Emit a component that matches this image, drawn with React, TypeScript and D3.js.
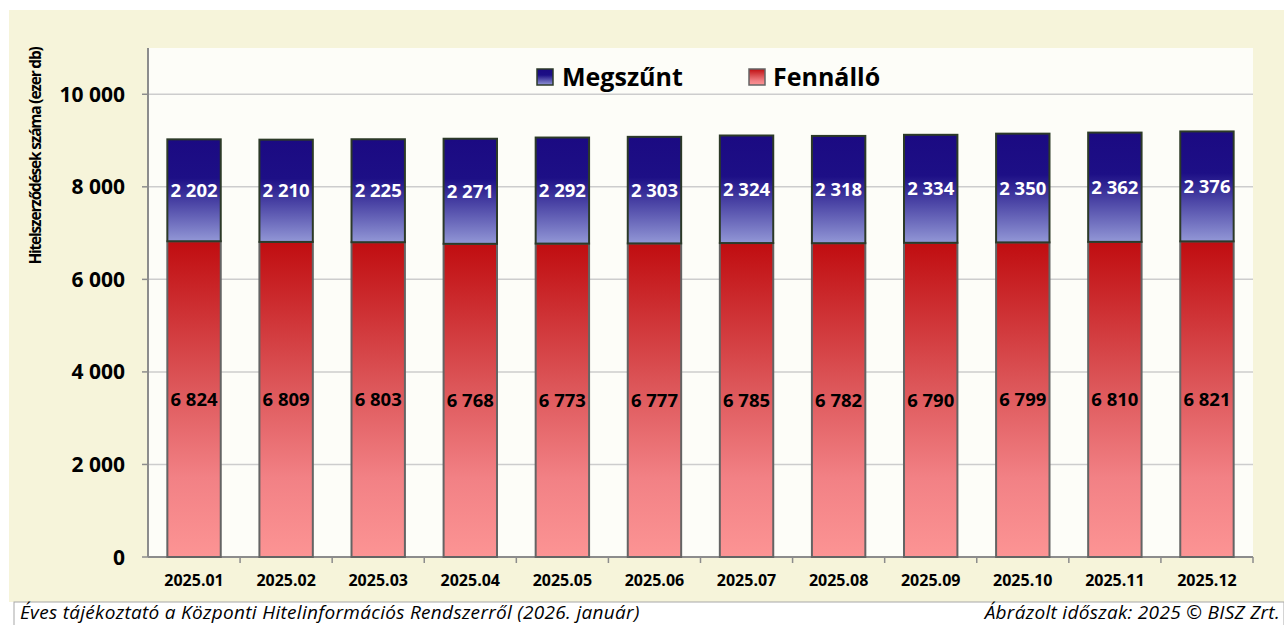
import React from "react";
import * as d3 from "d3";

const months = [
  "2025.01", "2025.02", "2025.03", "2025.04", "2025.05", "2025.06",
  "2025.07", "2025.08", "2025.09", "2025.10", "2025.11", "2025.12",
];
const fennallo = [6824, 6809, 6803, 6768, 6773, 6777, 6785, 6782, 6790, 6799, 6810, 6821];
const megszunt = [2202, 2210, 2225, 2271, 2292, 2303, 2324, 2318, 2334, 2350, 2362, 2376];
const yTicks = [0, 2000, 4000, 6000, 8000, 10000];

const W = 1284;
const H = 625;
const plot = { left: 148, right: 1253, top: 48, bottom: 557 };
const FONT = "'Open Sans', 'Noto Sans', sans-serif";

// ezres tagolás szóközzel
const fmt = (v: number) => d3.format(",")(v).replace(/,/g, " ");

export default function App() {
  const x = d3
    .scaleBand()
    .domain(months)
    .range([plot.left, plot.right])
    .paddingInner(0.42)
    .paddingOuter(0.21);

  const y = d3.scaleLinear().domain([0, 11000]).range([plot.bottom, plot.top]);

  const step = (plot.right - plot.left) / months.length;
  const bandEdges = months.map((_, i) => plot.left + step * (i + 1));

  return (
    <svg width={W} height={H} style={{ position: "absolute", left: 0, top: 0 }}>
      <defs>
        <linearGradient id="gBlue" x1="0" y1="0" x2="0" y2="1">
          <stop offset="0" stopColor="#1b0a82" />
          <stop offset="0.38" stopColor="#1d0f86" />
          <stop offset="1" stopColor="#9297d6" />
        </linearGradient>
        <linearGradient id="gRed" x1="0" y1="0" x2="0" y2="1">
          <stop offset="0" stopColor="#c00d10" />
          <stop offset="0.45" stopColor="#dc5558" />
          <stop offset="0.75" stopColor="#f28185" />
          <stop offset="1" stopColor="#fc9494" />
        </linearGradient>
      </defs>

      <rect x={0} y={0} width={W} height={H} fill="#ffffff" />
      <rect x={9} y={10} width={W - 9} height={592} fill="#f6f4da" />
      <rect
        x={plot.left}
        y={plot.top}
        width={plot.right - plot.left}
        height={plot.bottom - plot.top}
        fill="#fdfdf8"
      />

      {/* rácsvonalak */}
      {yTicks.map((t) => (
        <g key={t}>
          {t > 0 && (
            <line x1={plot.left} x2={plot.right} y1={y(t)} y2={y(t)} stroke="#cdcdcd" strokeWidth={1.5} />
          )}
          <line x1={plot.left - 6} x2={plot.left} y1={y(t)} y2={y(t)} stroke="#8c8c8c" strokeWidth={1.5} />
          <text
            x={125}
            y={y(t)}
            dy="0.36em"
            textAnchor="end"
            fontFamily={FONT}
            fontWeight={700}
            fontSize={21}
            fill="#000"
          >
            {fmt(t)}
          </text>
        </g>
      ))}

      {/* tengelyek */}
      <line x1={plot.left} x2={plot.left} y1={plot.top} y2={plot.bottom} stroke="#8c8c8c" strokeWidth={2} />
      <line x1={plot.left} x2={plot.right} y1={plot.bottom} y2={plot.bottom} stroke="#8c8c8c" strokeWidth={2} />
      {bandEdges.map((bx, i) => (
        <line key={i} x1={bx} x2={bx} y1={plot.bottom} y2={plot.bottom + 6} stroke="#8c8c8c" strokeWidth={1.5} />
      ))}

      {/* oszlopok */}
      {months.map((m, i) => {
        const bx = x(m)!;
        const bw = x.bandwidth();
        const f = fennallo[i];
        const s = megszunt[i];
        return (
          <g key={m}>
            <rect
              x={bx}
              y={y(f)}
              width={bw}
              height={y(0) - y(f)}
              fill="url(#gRed)"
              stroke="#646464"
              strokeWidth={2}
            />
            <rect
              x={bx}
              y={y(f + s)}
              width={bw}
              height={y(f) - y(f + s)}
              fill="url(#gBlue)"
              stroke="#2c3a28"
              strokeWidth={2}
            />
            <text
              x={bx + bw / 2}
              y={(y(f) + y(f + s)) / 2}
              dy="0.36em"
              textAnchor="middle"
              fontFamily={FONT}
              fontWeight={700}
              fontSize={18.5}
              fill="#ffffff"
            >
              {fmt(s)}
            </text>
            <text
              x={bx + bw / 2}
              y={(y(0) + y(f)) / 2}
              dy="0.36em"
              textAnchor="middle"
              fontFamily={FONT}
              fontWeight={700}
              fontSize={18.5}
              fill="#000"
            >
              {fmt(f)}
            </text>
            <text
              x={bx + bw / 2}
              y={580}
              dy="0.36em"
              textAnchor="middle"
              fontFamily={FONT}
              fontWeight={700}
              fontSize={16}
              fill="#000"
            >
              {m}
            </text>
          </g>
        );
      })}

      {/* jelmagyarázat */}
      <rect x={537} y={69} width={16} height={16} fill="url(#gBlue)" stroke="#2c3a28" strokeWidth={1.5} />
      <text x={562} y={86} fontFamily={FONT} fontWeight={700} fontSize={25} fill="#000">
        Megszűnt
      </text>
      <rect x={749} y={69} width={16} height={16} fill="url(#gRed)" stroke="#646464" strokeWidth={1.5} />
      <text x={773} y={86} fontFamily={FONT} fontWeight={700} fontSize={25} fill="#000">
        Fennálló
      </text>

      {/* y tengely címe */}
      <text
        transform={`translate(41, 156) rotate(-90)`}
        textAnchor="middle"
        fontFamily={FONT}
        fontWeight={700}
        fontSize={15.5}
        letterSpacing={-1.2}
        fill="#000"
      >
        Hitelszerződések száma (ezer db)
      </text>

      {/* lábléc */}
      <rect x={14} y={602} width={W - 14} height={30} fill="#ffffff" stroke="#a8a8a8" strokeWidth={1} />
      <text x={20} y={619} fontFamily={FONT} fontStyle="italic" fontSize={19} letterSpacing={0.3} fill="#000">
        Éves tájékoztató a Központi Hitelinformációs Rendszerről (2026. január)
      </text>
      <text
        x={1280}
        y={619}
        textAnchor="end"
        fontFamily={FONT}
        fontStyle="italic"
        fontSize={19}
        letterSpacing={0.3}
        fill="#000"
      >
        Ábrázolt időszak: 2025 © BISZ Zrt.
      </text>
    </svg>
  );
}
